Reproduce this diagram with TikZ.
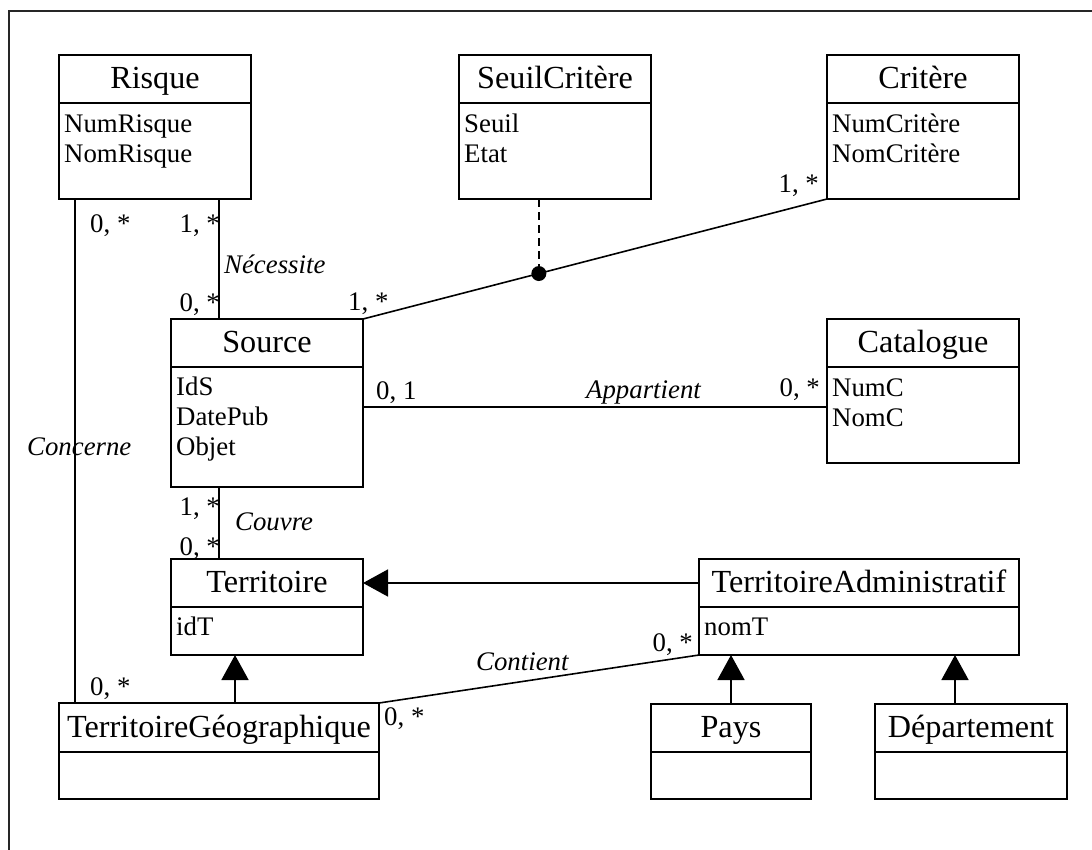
\documentclass[tikz,border=0pt]{standalone}
\usepackage{fontspec}
\setmainfont{Liberation Serif}
\usetikzlibrary{arrows.meta,calc}
\newcommand\ttlfont{\fontsize{32.2}{36}\selectfont}
\newcommand\attfont{\fontsize{26.8}{30}\selectfont}
\tikzset{
  classbox/.style={draw, rectangle, line width=1.6pt, inner sep=0pt, outer sep=0pt},
  ttl/.style={font=\ttlfont, anchor=base, inner sep=0pt},
  attr/.style={font=\attfont, anchor=base west, inner sep=0pt},
  multw/.style={font=\attfont, anchor=base west, inner sep=0pt},
  multe/.style={font=\attfont, anchor=base east, inner sep=0pt},
  role/.style={font=\attfont\itshape, anchor=base west, inner sep=0pt},
  conn/.style={line width=1.6pt},
  gen/.style={conn, -{Triangle[length=25pt,width=27pt]}},
  divider/.style={line width=1.6pt},
}
\begin{document}
\begin{tikzpicture}[x=1pt,y=-1pt]
\useasboundingbox (0,0) rectangle (1092,849);
% frame
\draw[line width=1.5pt, black!85] (9,860) -- (9,11) -- (1100,11);

% ---------- classes ----------
\node[classbox, minimum width=192pt, minimum height=144pt] (risque) at (155,127) {};
\draw[divider] (risque.west |- 0,103) -- (risque.east |- 0,103);
\node[ttl] (risqueT) at (155,88) {Risque};
\node[attr] (risqueA1) at (64,132) {NumRisque};
\node[attr] (risqueA2) at (64,162) {NomRisque};

\node[classbox, minimum width=192pt, minimum height=144pt] (seuil) at (555,127) {};
\draw[divider] (seuil.west |- 0,103) -- (seuil.east |- 0,103);
\node[ttl] (seuilT) at (555,88) {SeuilCritère};
\node[attr] (seuilA1) at (464,132) {Seuil};
\node[attr] (seuilA2) at (464,162) {Etat};

\node[classbox, minimum width=192pt, minimum height=144pt] (critere) at (923,127) {};
\draw[divider] (critere.west |- 0,103) -- (critere.east |- 0,103);
\node[ttl] (critereT) at (923,88) {Critère};
\node[attr] (critereA1) at (832,132) {NumCritère};
\node[attr] (critereA2) at (832,162) {NomCritère};

\node[classbox, minimum width=192pt, minimum height=168pt] (source) at (267,403) {};
\draw[divider] (source.west |- 0,367) -- (source.east |- 0,367);
\node[ttl] (sourceT) at (267,352) {Source};
\node[attr] (sourceA1) at (176,395) {IdS};
\node[attr] (sourceA2) at (176,425) {DatePub};
\node[attr] (sourceA3) at (176,455) {Objet};

\node[classbox, minimum width=192pt, minimum height=144pt] (catalogue) at (923,391) {};
\draw[divider] (catalogue.west |- 0,367) -- (catalogue.east |- 0,367);
\node[ttl] (catalogueT) at (923,352) {Catalogue};
\node[attr] (catalogueA1) at (832,396) {NumC};
\node[attr] (catalogueA2) at (832,426) {NomC};

\node[classbox, minimum width=192pt, minimum height=96pt] (territoire) at (267,607) {};
\draw[divider] (territoire.west |- 0,607) -- (territoire.east |- 0,607);
\node[ttl] (territoireT) at (267,592) {Territoire};
\node[attr] (territoireA1) at (176,635) {idT};

\node[classbox, minimum width=320pt, minimum height=96pt] (ta) at (859,607) {};
\draw[divider] (ta.west |- 0,607) -- (ta.east |- 0,607);
\node[ttl] (taT) at (859,592) {TerritoireAdministratif};
\node[attr] (taA1) at (704,635) {nomT};

\node[classbox, minimum width=320pt, minimum height=96pt] (tg) at (219,751) {};
\draw[divider] (tg.west |- 0,752) -- (tg.east |- 0,752);
\node[ttl] (tgT) at (219,737) {TerritoireGéographique};

\node[classbox, minimum width=160pt, minimum height=95pt] (pays) at (731,751.5) {};
\draw[divider] (pays.west |- 0,752) -- (pays.east |- 0,752);
\node[ttl] (paysT) at (731,737) {Pays};

\node[classbox, minimum width=192pt, minimum height=95pt] (dept) at (971,751.5) {};
\draw[divider] (dept.west |- 0,752) -- (dept.east |- 0,752);
\node[ttl] (deptT) at (971,737) {Département};

% ---------- helper coordinates ----------
\coordinate (necX) at (219,0);
\coordinate (conX) at (75,0);
\coordinate (appY) at (0,407);
\coordinate (genY) at (0,583);
\coordinate (tgX) at (235,0);
\coordinate (deptX) at (955,0);

% ---------- connectors ----------
\draw[conn] (risque.south -| necX) -- (source.north -| necX);
\draw[conn] (risque.south -| conX) -- (tg.north -| conX);
\draw[conn] (source.north east) -- (critere.south west);
\coordinate (dot) at ($(source.north east)!0.379!(critere.south west)$);
\draw[conn, dash pattern=on 8pt off 5pt] (seuil.south -| dot) -- (dot);
\fill (dot) circle (7.5pt);
\draw[conn] (source.east |- appY) -- (catalogue.west |- appY);
\draw[conn] (source.south -| necX) -- (territoire.north -| necX);
\draw[gen] (ta.west |- genY) -- (territoire.east |- genY);
\draw[gen] (tg.north -| tgX) -- (territoire.south -| tgX);
\draw[conn] (tg.north east) -- (ta.south west);
\draw[gen] (pays.north) -- (ta.south -| pays.north);
\draw[gen] (dept.north -| deptX) -- (ta.south -| deptX);

% ---------- labels ----------
\node[multw] (m1) at (90,232) {0, *};
\node[multe] (m2) at (220,232) {1, *};
\node[role] (rNec) at (224,273) {Nécessite};
\node[multe] (m3) at (220,311) {0, *};
\node[multw] (m4) at (348,310) {1, *};
\node[multe] (m5) at (819,192) {1, *};
\node[role] (rCon) at (27,455) {Concerne};
\node[multw] (m6) at (376,399) {0, 1};
\node[role] (rApp) at (586,398) {Appartient};
\node[multe] (m7) at (820,396) {0, *};
\node[multe] (m8) at (220,515) {1, *};
\node[role] (rCou) at (235,530) {Couvre};
\node[multe] (m9) at (220,555) {0, *};
\node[multw] (m10) at (90,695) {0, *};
\node[multw] (m11) at (384,725) {0, *};
\node[role] (rCnt) at (476,670) {Contient};
\node[multe] (m12) at (693,651) {0, *};
\end{tikzpicture}
\end{document}
